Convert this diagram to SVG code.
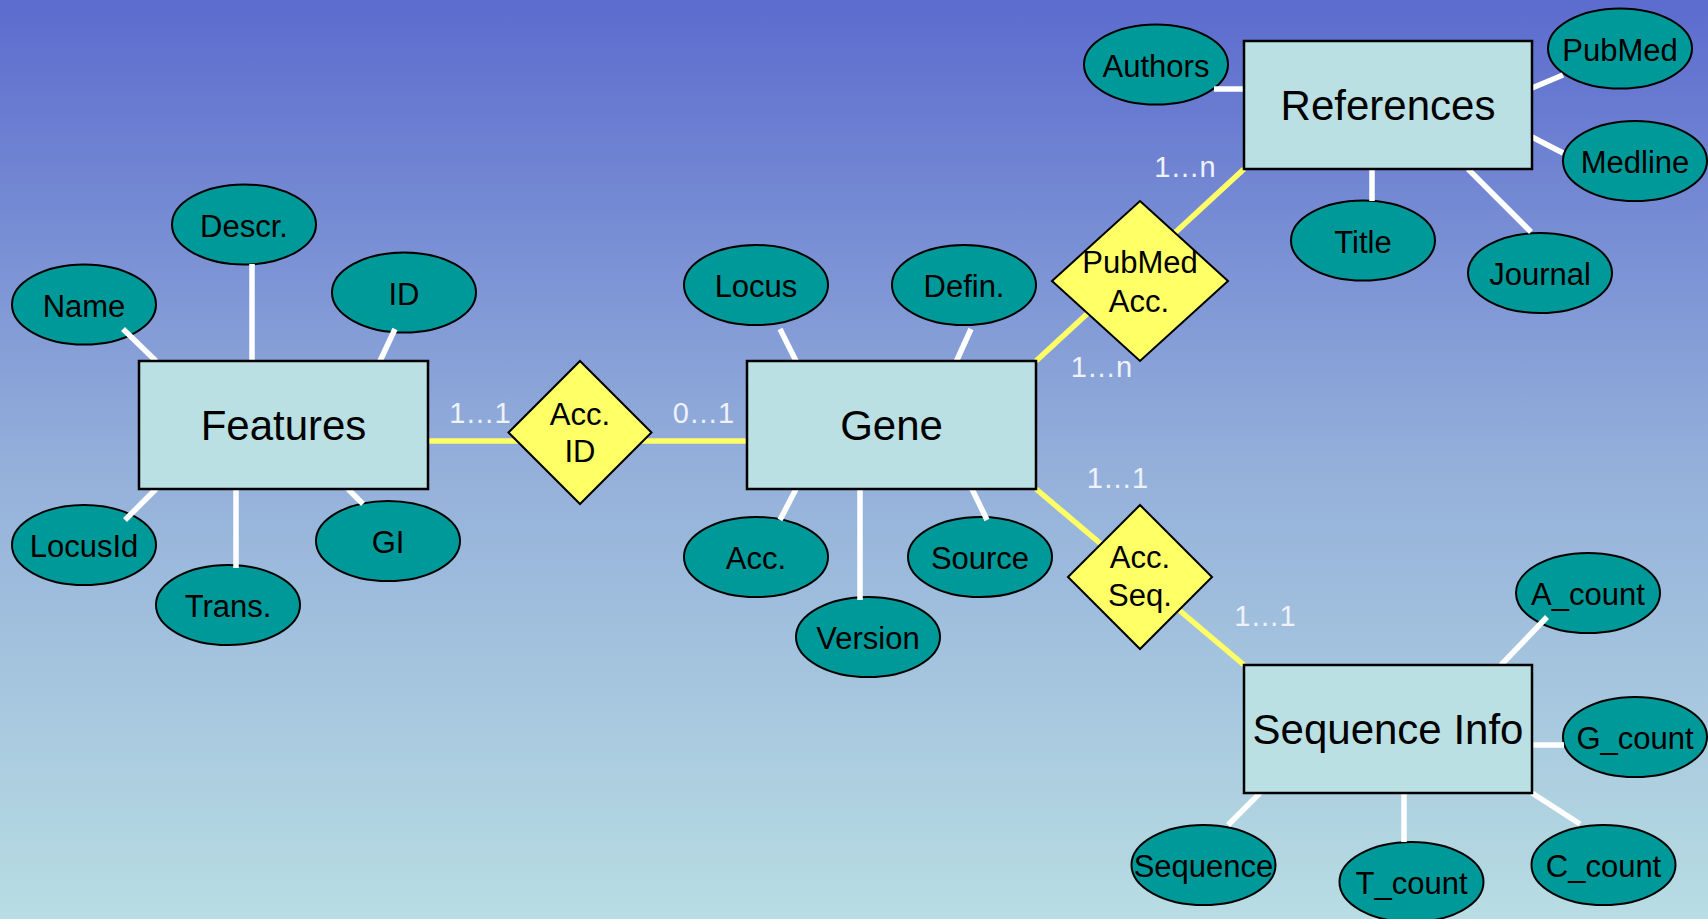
<svg xmlns="http://www.w3.org/2000/svg" width="1708" height="919" viewBox="0 0 1708 919">
<defs>
<linearGradient id="bg" x1="0" y1="0" x2="0" y2="1">
<stop offset="0" stop-color="#5c6bce"/>
<stop offset="0.5" stop-color="#93afda"/>
<stop offset="1" stop-color="#b8dde3"/>
</linearGradient>
</defs>
<style>
.attr ellipse{fill:#009999;stroke:#000;stroke-width:2}
.ent rect{fill:#bae0e3;stroke:#000;stroke-width:2.5}
.rel polygon{fill:#ffff66;stroke:#000;stroke-width:2}
text{font-family:"Liberation Sans",Arial,sans-serif;text-anchor:middle;fill:#000}
.at{font-size:31px}
.et{font-size:42px}
.rt{font-size:31px}
.card{font-size:29px;fill:#eef2fa}
.w{stroke:#fff;stroke-width:5.5;fill:none}
.y{stroke:#ffff66;stroke-width:5.5;fill:none}
</style>
<rect x="0" y="0" width="1708" height="919" fill="url(#bg)"/>

<g id="attributes" class="attr">
<g id="attr-name"><ellipse cx="84" cy="304.5" rx="72" ry="40"/><text class="at" x="84" y="316.5">Name</text></g>
<g id="attr-descr"><ellipse cx="244" cy="224.5" rx="72" ry="40"/><text class="at" x="244" y="236.5">Descr.</text></g>
<g id="attr-id"><ellipse cx="404" cy="292.5" rx="72" ry="40"/><text class="at" x="404" y="304.5">ID</text></g>
<g id="attr-locusid"><ellipse cx="84" cy="545" rx="72" ry="40"/><text class="at" x="84" y="557">LocusId</text></g>
<g id="attr-trans"><ellipse cx="228" cy="605" rx="72" ry="40"/><text class="at" x="228" y="617">Trans.</text></g>
<g id="attr-gi"><ellipse cx="388" cy="541" rx="72" ry="40"/><text class="at" x="388" y="553">GI</text></g>
<g id="attr-locus"><ellipse cx="756" cy="285" rx="72" ry="40"/><text class="at" x="756" y="297">Locus</text></g>
<g id="attr-defin"><ellipse cx="964" cy="285" rx="72" ry="40"/><text class="at" x="964" y="297">Defin.</text></g>
<g id="attr-acc"><ellipse cx="756" cy="557" rx="72" ry="40"/><text class="at" x="756" y="569">Acc.</text></g>
<g id="attr-version"><ellipse cx="868" cy="637" rx="72" ry="40"/><text class="at" x="868" y="649">Version</text></g>
<g id="attr-source"><ellipse cx="980" cy="557" rx="72" ry="40"/><text class="at" x="980" y="569">Source</text></g>
<g id="attr-authors"><ellipse cx="1156" cy="64.5" rx="72" ry="40"/><text class="at" x="1156" y="76.5">Authors</text></g>
<g id="attr-pubmed"><ellipse cx="1620" cy="48.5" rx="72" ry="40"/><text class="at" x="1620" y="60.5">PubMed</text></g>
<g id="attr-medline"><ellipse cx="1635" cy="161" rx="72" ry="40"/><text class="at" x="1635" y="173">Medline</text></g>
<g id="attr-title"><ellipse cx="1363" cy="240.5" rx="72" ry="40"/><text class="at" x="1363" y="252.5">Title</text></g>
<g id="attr-journal"><ellipse cx="1540" cy="273" rx="72" ry="40"/><text class="at" x="1540" y="285">Journal</text></g>
<g id="attr-acount"><ellipse cx="1588" cy="593" rx="72" ry="40"/><text class="at" x="1588" y="605">A_count</text></g>
<g id="attr-gcount"><ellipse cx="1635" cy="737" rx="72" ry="40"/><text class="at" x="1635" y="749">G_count</text></g>
<g id="attr-sequence"><ellipse cx="1203.5" cy="865" rx="72" ry="40"/><text class="at" x="1203.5" y="877">Sequence</text></g>
<g id="attr-tcount"><ellipse cx="1411.5" cy="882" rx="72" ry="40"/><text class="at" x="1411.5" y="894">T_count</text></g>
<g id="attr-ccount"><ellipse cx="1603.5" cy="865" rx="72" ry="40"/><text class="at" x="1603.5" y="877">C_count</text></g>
</g>

<g id="connectors">
<line class="y" x1="428" y1="441" x2="747" y2="441"/>
<line class="y" x1="1036" y1="361" x2="1244" y2="169"/>
<line class="y" x1="1036" y1="489" x2="1244" y2="665"/>
<line class="w" x1="123" y1="329" x2="156" y2="361"/>
<line class="w" x1="252" y1="264" x2="252" y2="361"/>
<line class="w" x1="395" y1="329" x2="380" y2="361"/>
<line class="w" x1="156" y1="489" x2="125" y2="520"/>
<line class="w" x1="236" y1="489" x2="236" y2="568"/>
<line class="w" x1="348" y1="489" x2="363" y2="504"/>
<line class="w" x1="780" y1="329" x2="796" y2="361"/>
<line class="w" x1="971" y1="329" x2="956.5" y2="361"/>
<line class="w" x1="796" y1="489" x2="780" y2="520"/>
<line class="w" x1="860" y1="489" x2="860" y2="600"/>
<line class="w" x1="972" y1="489" x2="987" y2="520"/>
<line class="w" x1="1214" y1="89" x2="1244" y2="89"/>
<line class="w" x1="1532" y1="88" x2="1563" y2="75"/>
<line class="w" x1="1532" y1="137" x2="1563" y2="153"/>
<line class="w" x1="1372" y1="169" x2="1372" y2="201"/>
<line class="w" x1="1468" y1="169" x2="1531" y2="232"/>
<line class="w" x1="1501" y1="665" x2="1547" y2="617"/>
<line class="w" x1="1532" y1="745" x2="1564" y2="745"/>
<line class="w" x1="1260" y1="793" x2="1228" y2="825"/>
<line class="w" x1="1404" y1="793" x2="1404" y2="842"/>
<line class="w" x1="1532" y1="793" x2="1580" y2="824"/>
<text class="card" x="480" y="423">1…1</text>
<text class="card" x="703.5" y="423">0…1</text>
<text class="card" x="1185" y="177">1…n</text>
<text class="card" x="1101.5" y="377">1…n</text>
<text class="card" x="1117.5" y="488">1…1</text>
<text class="card" x="1265" y="626">1…1</text>
</g>

<g id="entities" class="ent">
<g id="features"><rect x="139" y="361" width="289" height="128"/><text class="et" x="283.5" y="440">Features</text></g>
<g id="gene"><rect x="747" y="361" width="289" height="128"/><text class="et" x="891.5" y="440">Gene</text></g>
<g id="references"><rect x="1244" y="41" width="288" height="128"/><text class="et" x="1388" y="120">References</text></g>
<g id="sequence-info"><rect x="1244" y="665" width="288" height="128"/><text class="et" x="1388" y="744">Sequence Info</text></g>
</g>

<g id="relationships" class="rel">
<g id="acc-id"><polygon points="580,361 651.5,432.5 580,504 508.5,432.5"/><text class="rt" x="580" y="425">Acc.</text><text class="rt" x="580" y="462">ID</text></g>
<g id="pubmed-acc"><polygon points="1140,201 1228,281 1140,361 1052,281"/><text class="rt" x="1140" y="273">PubMed</text><text class="rt" x="1139" y="312">Acc.</text></g>
<g id="acc-seq"><polygon points="1140,505 1212,577 1140,649 1068,577"/><text class="rt" x="1140" y="568">Acc.</text><text class="rt" x="1140" y="606">Seq.</text></g>
</g>
</svg>
